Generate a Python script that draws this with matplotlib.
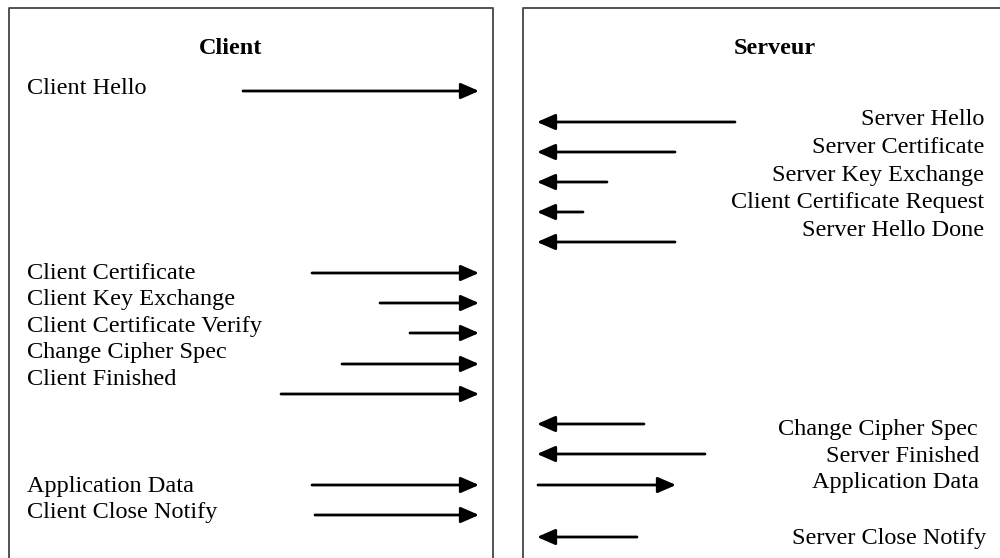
import matplotlib as mpl
import matplotlib.pyplot as plt

mpl.rcParams['font.family'] = ['Liberation Serif', 'DejaVu Serif']
fs = 17.5

# client side messages (label, text baseline, arrow y, arrow tail x)
client_msgs = ['Client Hello', 'Client Certificate', 'Client Key Exchange',
               'Client Certificate Verify', 'Change Cipher Spec',
               'Client Finished', 'Application Data', 'Client Close Notify']
client_text_y = [94, 279, 305, 332, 358, 385, 492, 518]
client_arrow_y = [91, 273, 303, 333, 364, 394, 485, 515]
client_arrow_x0 = [243, 312, 380, 410, 342, 281, 312, 315]
client_arrow_x1 = 479

# server side messages
server_msgs = ['Server Hello', 'Server Certificate', 'Server Key Exchange',
               'Client Certificate Request', 'Server Hello Done',
               'Change Cipher Spec', 'Server Finished', 'Application Data',
               'Server Close Notify']
server_text_y = [125, 153, 181, 208, 236, 435, 462, 488, 544]
server_text_x = [984, 984, 984, 984, 984, 978, 979, 979, 986]
server_arrow_y = [122, 152, 182, 212, 242, 424, 454, 485, 537]
server_arrow_x0 = [735, 675, 607, 583, 675, 644, 705, 538, 637]
server_arrow_x1 = [537, 537, 537, 537, 537, 537, 537, 676, 537]

fig = plt.figure(figsize=(10, 5.58), dpi=100)
ax = fig.add_axes([0, 0, 1, 1])
ax.set_xlim(0, 1000)
ax.set_ylim(558, 0)
ax.axis('off')

# the two frames (open at the bottom)
frame = dict(color='#444444', lw=1.3, solid_capstyle='butt')
ax.plot([9, 9, 493, 493], [570, 8, 8, 570], **frame)
ax.plot([523, 523, 1005], [570, 8, 8], **frame)

ax.text(231, 54, 'Client', fontsize=fs, fontweight='bold', ha='center', va='baseline')
ax.text(775, 54, 'Serveur', fontsize=fs, fontweight='bold', ha='center', va='baseline')

arrow = dict(arrowstyle='-|>,head_length=0.55,head_width=0.24', lw=2,
             color='black', mutation_scale=20, shrinkA=0, shrinkB=0)

for lab, ty, ay, x0 in zip(client_msgs, client_text_y, client_arrow_y, client_arrow_x0):
    ax.text(27, ty, lab, fontsize=fs, ha='left', va='baseline')
    ax.annotate('', xy=(client_arrow_x1, ay), xytext=(x0, ay), arrowprops=arrow)

for lab, tx, ty, ay, x0, x1 in zip(server_msgs, server_text_x, server_text_y,
                                   server_arrow_y, server_arrow_x0, server_arrow_x1):
    ax.text(tx, ty, lab, fontsize=fs, ha='right', va='baseline')
    ax.annotate('', xy=(x1, ay), xytext=(x0, ay), arrowprops=arrow)

fig.savefig('out.png', dpi=100)
